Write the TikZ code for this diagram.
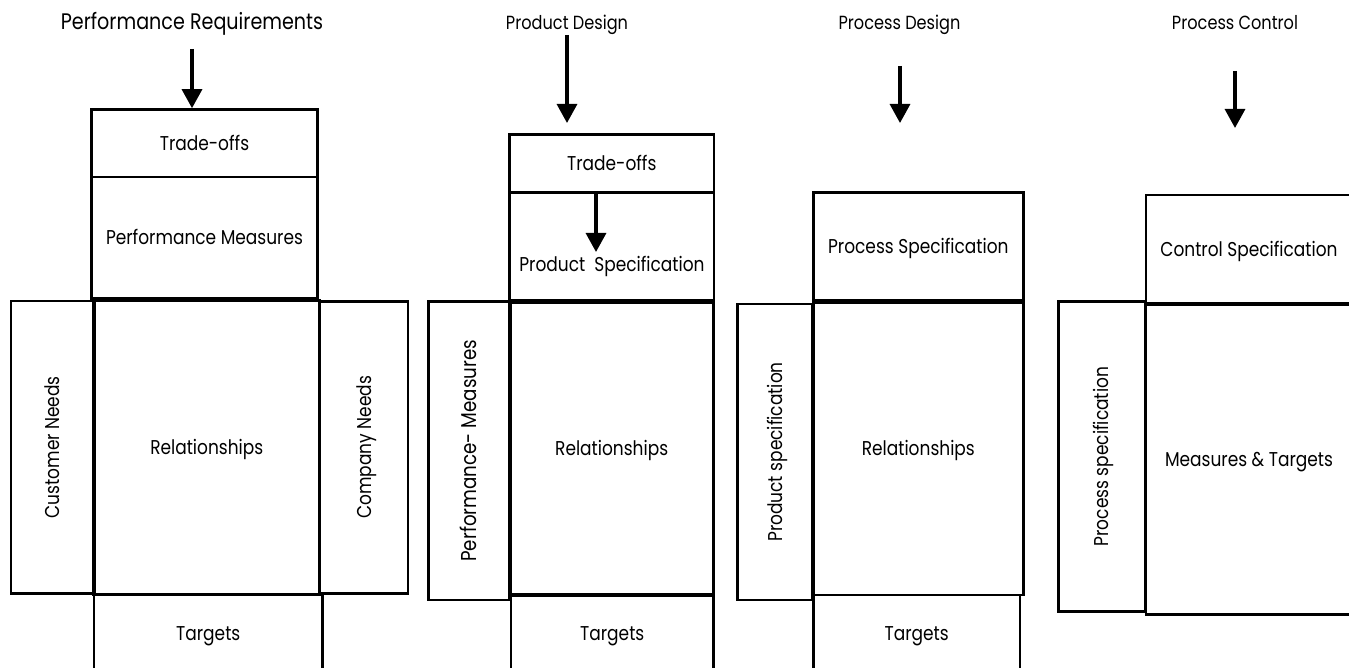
\documentclass[tikz,border=0pt]{standalone}
\usepackage{fontspec}
\setmainfont{Poppins}[FakeStretch=0.85]
\usetikzlibrary{arrows.meta,calc}
\begin{document}
\begin{tikzpicture}[x=1pt,y=-1pt,
  box/.style={draw, line width=2.6pt, inner sep=0pt, text height=14pt, text depth=0pt,
    font=\fontsize{20}{20}\selectfont, align=center},
  heavy/.style={line width=3.6pt},
  vbox/.style={box, rotate=90},
  lbl/.style={inner sep=0pt, text height=14pt, text depth=0pt, font=\fontsize{20}{20}\selectfont},
  ttl/.style={anchor=base, inner sep=0pt, font=\fontsize{19}{19}\selectfont},
  arr/.style={line width=3.2pt, -{Triangle[width=20pt,length=19pt]}}]
\useasboundingbox (0,0) rectangle (1349,668);
\clip (0,0) rectangle (1349,668);
\fill[white] (0,0) rectangle (1349,668);

% ---------- Panel 1 ----------
\node[ttl, font=\fontsize{22.5}{22.5}\selectfont] (t1) at (192,29.3) {Performance Requirements};
\node[box, minimum width=226pt, minimum height=67.5pt] (tr1) at (204.5,143.25) {Trade-offs};
\node[box, minimum width=226pt, minimum height=121.5pt] (pm1) at (204.5,237.75) {Performance Measures};
\node[vbox, minimum width=292.5pt, minimum height=82pt] (cn1) at (52,447.25) {Customer Needs};
\node[vbox, minimum width=292pt, minimum height=88pt] (co1) at (364,447.5) {Company Needs};
\node[box, minimum width=228.5pt, minimum height=77pt] (tg1) at (208.25,633.5) {Targets};
\node[box, heavy, minimum width=225.5pt, minimum height=294pt] (rel1) at (206.75,447.5) {Relationships};
\coordinate (a1s) at (192,49);
\draw[arr] (a1s) -- (a1s |- tr1.north);

% ---------- Panel 2 ----------
\node[ttl] (t2) at (567,29.3) {Product Design};
\node[box, minimum width=204.5pt, minimum height=58pt] (tr2) at (611.75,163.3) {Trade-offs};
\node[box, minimum width=204.5pt, minimum height=107.7pt] (ps2) at (611.75,246.15) {};
\node[lbl] (ps2t) at (612,265) {Product\ \ Specification};
\node[vbox, minimum width=298.5pt, minimum height=80.8pt, text height=15pt, font=\fontsize{21.5}{21.5}\selectfont] (pm2) at (469.1,450.75) {Performance- Measures};
\node[box, minimum width=202.5pt, minimum height=77pt] (tg2) at (612.25,633.5) {Targets};
\node[box, heavy, minimum width=203.3pt, minimum height=292.5pt] (rel2) at (611.65,448.75) {Relationships};
\coordinate (a2s) at (567,35);
\coordinate (a2e) at (567,123);
\draw[arr] (a2s) -- (a2e);
\coordinate (a2ie) at (596,252);
\draw[arr] (a2ie |- tr2.south) -- (a2ie);

% ---------- Panel 3 ----------
\node[ttl] (t3) at (899.5,29.3) {Process Design};
\node[box, minimum width=210pt, minimum height=107.3pt] (psp3) at (918.3,246.35) {Process Specification};
\node[vbox, minimum width=296pt, minimum height=75pt] (prs3) at (775.2,452) {Product specification};
\node[box, minimum width=206.7pt, minimum height=77pt] (tg3) at (916.65,633.5) {Targets};
\node[box, minimum width=210pt, minimum height=292.5pt] (rel3) at (918.3,448.75) {Relationships};
\coordinate (a3s) at (900,66);
\coordinate (a3e) at (900,123);
\draw[arr] (a3s) -- (a3e);

% ---------- Panel 4 ----------
\node[ttl] (t4) at (1235,29.3) {Process Control};
\node[box, minimum width=206pt, minimum height=108.3pt] (cs4) at (1249,249.15) {Control Specification};
\node[vbox, minimum width=310pt, minimum height=86.7pt] (psp4) at (1101.65,456.7) {Process specification};
\node[box, minimum width=206pt, minimum height=310pt] (mt4) at (1249,459.3) {Measures \& Targets};
\coordinate (a4s) at (1235,71);
\coordinate (a4e) at (1235,128);
\draw[arr] (a4s) -- (a4e);
\end{tikzpicture}
\end{document}
